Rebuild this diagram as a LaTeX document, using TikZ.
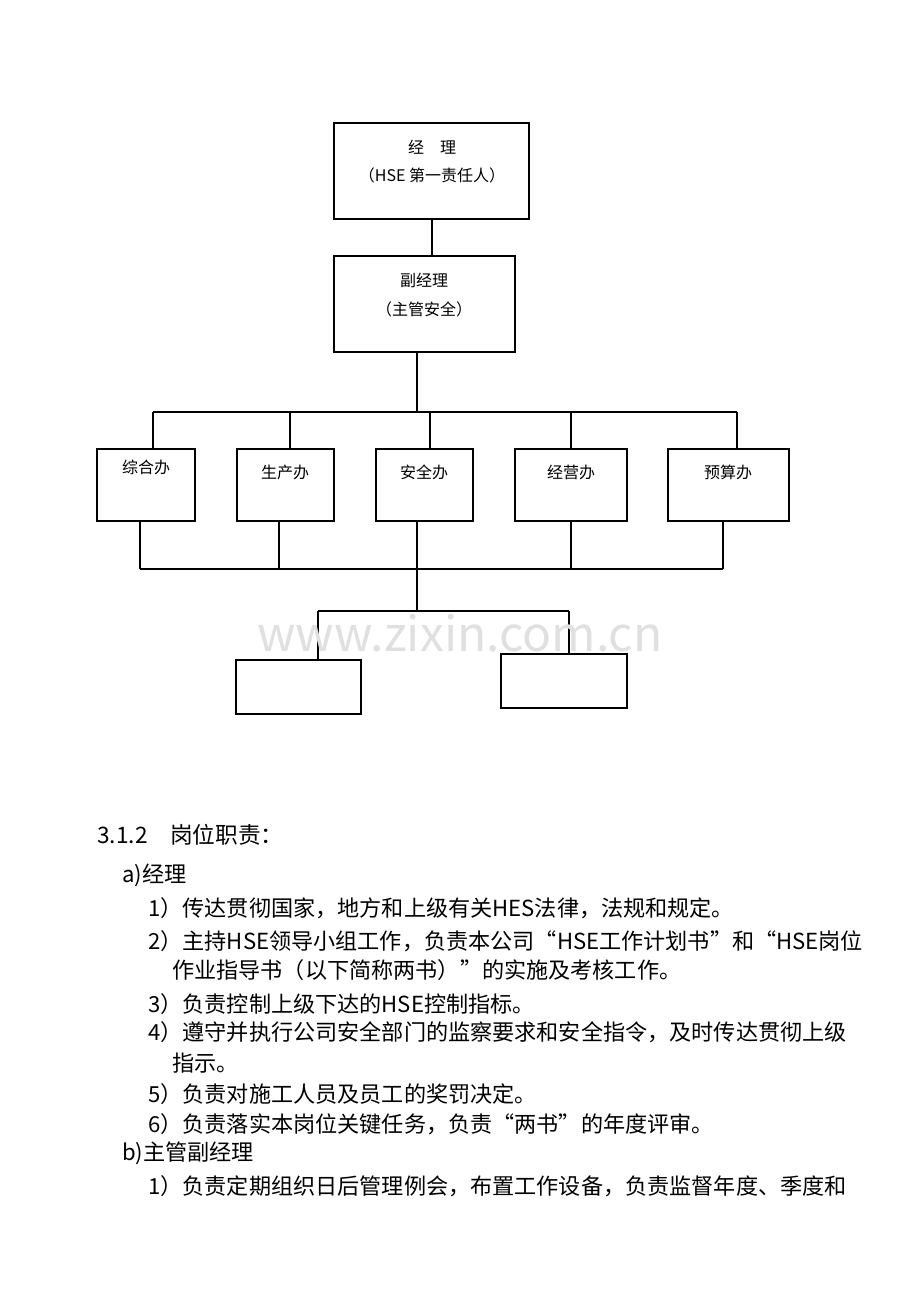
\documentclass[tikz,border=0pt]{standalone}
\usepackage{fontspec}
\setmainfont{Noto Sans CJK SC}
\usetikzlibrary{positioning}
\tikzset{
  box/.style={draw, thick, inner sep=0pt},
  boxtxt/.style={font=\fontsize{12}{14}\selectfont, inner sep=0pt},
  body/.style={font=\fontsize{16.6}{19}\selectfont, anchor=west, inner sep=0pt},
  wire/.style={thick}
}
% box from corner (x1,y1) to (x2,y2), in pixels
\newcommand{\pbox}[5]{\node[box, minimum width={(#4-#2)*0.75pt}, minimum height={(#5-#3)*0.75pt}]
  (#1) at ({(#2+#4)/2},{(#3+#5)/2}) {};}
\begin{document}
\begin{tikzpicture}[x=0.75pt,y=-0.75pt]
  \useasboundingbox (0,0) rectangle (920,1302);
  % top of chart
  \pbox{jl}{334}{123}{529}{219}
  \pbox{fjl}{334}{256}{515}{352}
  \node[boxtxt] at (432,147) {经\quad 理};
  \node[boxtxt] at (432,175) {（HSE 第一责任人）};
  \node[boxtxt] at (424,280) {副经理};
  \node[boxtxt] at (424,309) {（主管安全）};
  \draw[wire] (jl.south -| 432,0) -- (fjl.north -| 432,0);
  % offices
  \pbox{zhb}{97}{449}{195}{521}
  \pbox{scb}{237}{449}{334}{521}
  \pbox{aqb}{376}{449}{473}{521}
  \pbox{jyb}{515}{449}{627}{521}
  \pbox{ysb}{668}{449}{789}{521}
  \node[boxtxt] at (146,467) {综合办};
  \node[boxtxt] at (285,472) {生产办};
  \node[boxtxt] at (424,472) {安全办};
  \node[boxtxt] at (571,472) {经营办};
  \node[boxtxt] at (728,472) {预算办};
  \coordinate (busa) at (417,412);
  \coordinate (busb) at (417,569);
  \coordinate (busc) at (417,611);
  \draw[wire] (fjl.south -| busa) -- (busa);
  \draw[wire] (153,412) -- (737,412);
  \foreach \n/\x in {zhb/153,scb/290,aqb/430,jyb/571,ysb/737}
    \draw[wire] (\x,412) -- (\n.north -| \x,0);
  \foreach \n/\x in {zhb/140,scb/279,aqb/417,jyb/571,ysb/723}
    \draw[wire] (\n.south -| \x,0) -- (\x,569);
  \draw[wire] (140,569) -- (723,569);
  \draw[wire] (busb) -- (busc);
  \draw[wire] (318,611) -- (569,611);
  % lower boxes
  \pbox{xa}{236}{660}{361}{714}
  \pbox{xb}{501}{654}{627}{708}
  \draw[wire] (318,611) -- (xa.north -| 318,0);
  \draw[wire] (569,611) -- (xb.north -| 569,0);
  \node[font=\fontsize{36}{40}\selectfont, text=black!12] at (460,633) {www.zixin.com.cn};
  % text
  \node[body, font=\fontsize{17}{19}\selectfont] at (97,835) {3.1.2\quad 岗位职责：};
  \node[body] at (122,875) {a)经理};
  \node[body] at (148,908) {1）传达贯彻国家，地方和上级有关HES法律，法规和规定。};
  \node[body] at (148,941) {2）主持HSE领导小组工作，负责本公司“HSE工作计划书”和“HSE岗位};
  \node[body] at (172,970) {作业指导书（以下简称两书）”的实施及考核工作。};
  \node[body] at (148,1004) {3）负责控制上级下达的HSE控制指标。};
  \node[body] at (148,1032) {4）遵守并执行公司安全部门的监察要求和安全指令，及时传达贯彻上级};
  \node[body] at (172,1063) {指示。};
  \node[body] at (148,1094) {5）负责对施工人员及员工的奖罚决定。};
  \node[body] at (148,1124) {6）负责落实本岗位关键任务，负责“两书”的年度评审。};
  \node[body] at (122,1153) {b)主管副经理};
  \node[body] at (148,1186) {1）负责定期组织日后管理例会，布置工作设备，负责监督年度、季度和};
\end{tikzpicture}
\end{document}
